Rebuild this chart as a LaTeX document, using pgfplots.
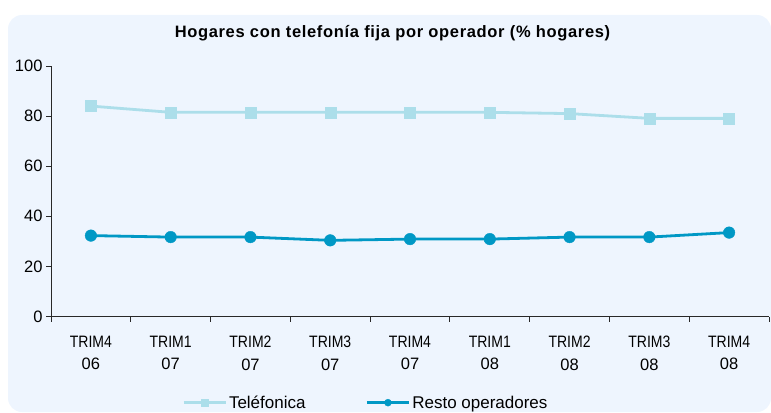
\documentclass[border=0pt]{standalone}
\usepackage{fontspec}
\setmainfont{Liberation Sans}
\newfontfamily\narrowfont{Liberation Sans}[FakeStretch=0.85]
\newfontfamily\titlefont{Liberation Sans}[LetterSpace=4]
\usepackage{pgfplots}
\pgfplotsset{compat=1.18}
\definecolor{bgc}{RGB}{238,245,254}
\definecolor{telc}{RGB}{172,222,234}
\definecolor{resc}{RGB}{0,152,197}
\definecolor{axc}{RGB}{40,40,40}
\begin{document}
\begin{tikzpicture}[x=1bp,y=1bp]
\useasboundingbox (0,0) rectangle (771,412);
\fill[bgc, rounded corners=14bp] (8,0) rectangle (771,397);
\node[font=\titlefont\bfseries\fontsize{16.5bp}{19bp}\selectfont] at (392.5,379) {Hogares con telefonía fija por operador (\% hogares)};
\begin{axis}[
  at={(51bp,95.5bp)}, anchor=south west,
  scale only axis, width=718bp, height=250.5bp,
  xmin=-0.5, xmax=8.5, ymin=0, ymax=100,
  clip=false,
  axis x line*=bottom, axis y line*=left,
  axis line style={draw=axc, line width=1bp, -},
  ytick={0,20,...,100},
  xtick={-0.5,0.5,...,8.5}, xticklabels={},
  extra x ticks={0,1,...,8},
  extra x tick labels={{\narrowfont TRIM4}\\06,{\narrowfont TRIM1}\\07,{\narrowfont TRIM2}\\07,{\narrowfont TRIM3}\\07,{\narrowfont TRIM4}\\07,{\narrowfont TRIM1}\\08,{\narrowfont TRIM2}\\08,{\narrowfont TRIM3}\\08,{\narrowfont TRIM4}\\08},
  extra x tick style={major tick length=0bp, xticklabel style={yshift=-16bp}},
  tick align=outside, major tick length=5bp,
  tick style={axc, line width=0.8bp},
  ticklabel style={font=\fontsize{16.5bp}{22.6bp}\selectfont, text=black},
  xticklabel style={align=center},
  /pgf/number format/assume math mode=true,
  legend style={at={(0.1783,-0.344)}, anchor=west, draw=none, fill=none,
    font=\fontsize{17bp}{19bp}\selectfont, legend columns=2,
    /tikz/every even column/.append style={column sep=58bp}},
  legend image code/.code={\draw[#1, mark repeat=2, mark phase=2, mark size=3.5bp] plot coordinates {(0bp,0bp)(21bp,0bp)(42bp,0bp)};},
]
\addplot[telc, line width=2.8bp, mark=square*, mark size=5.5bp, mark options={line width=0.4bp}]
  coordinates {(0,84.0)(1,81.5)(2,81.5)(3,81.5)(4,81.5)(5,81.5)(6,81.0)(7,79.1)(8,79.1)};
\addlegendentry{Teléfonica}
\addplot[resc, line width=2.8bp, mark=*, mark size=5.8bp, mark options={line width=0.4bp}]
  coordinates {(0,32.3)(1,31.7)(2,31.7)(3,30.4)(4,30.9)(5,30.9)(6,31.7)(7,31.7)(8,33.5)};
\addlegendentry{Resto operadores}
\end{axis}
\end{tikzpicture}
\end{document}
